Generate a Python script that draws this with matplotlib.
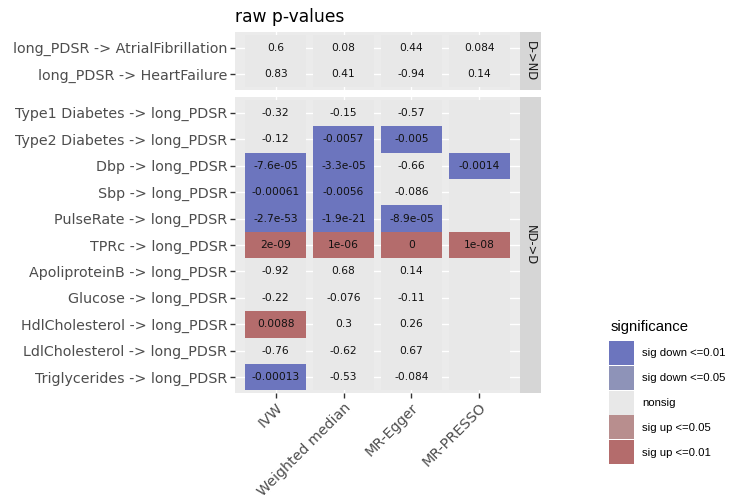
import matplotlib
matplotlib.use("Agg")
import matplotlib.pyplot as plt
from matplotlib.patches import Rectangle

# ---------------- data ----------------
methods = ["IVW", "Weighted median", "MR-Egger", "MR-PRESSO"]
rows_dnd = ["long_PDSR -> AtrialFibrillation", "long_PDSR -> HeartFailure"]
rows_ndd = ["Type1 Diabetes -> long_PDSR", "Type2 Diabetes -> long_PDSR",
            "Dbp -> long_PDSR", "Sbp -> long_PDSR", "PulseRate -> long_PDSR",
            "TPRc -> long_PDSR", "ApoliproteinB -> long_PDSR",
            "Glucose -> long_PDSR", "HdlCholesterol -> long_PDSR",
            "LdlCholesterol -> long_PDSR", "Triglycerides -> long_PDSR"]

ivw_dnd = ["0.6", "0.83"]
wm_dnd = ["0.08", "0.41"]
egger_dnd = ["0.44", "-0.94"]
presso_dnd = ["0.084", "0.14"]

ivw_ndd = ["-0.32", "-0.12", "-7.6e-05", "-0.00061", "-2.7e-53", "2e-09",
           "-0.92", "-0.22", "0.0088", "-0.76", "-0.00013"]
wm_ndd = ["-0.15", "-0.0057", "-3.3e-05", "-0.0056", "-1.9e-21", "1e-06",
          "0.68", "-0.076", "0.3", "-0.62", "-0.53"]
egger_ndd = ["-0.57", "-0.005", "-0.66", "-0.086", "-8.9e-05", "0",
             "0.14", "-0.11", "0.26", "0.67", "-0.084"]
presso_ndd = [None, None, "-0.0014", None, None, "1e-08",
              None, None, None, None, None]

sig_levels = ["sig down <=0.01", "sig down <=0.05", "nonsig",
              "sig up <=0.05", "sig up <=0.01"]
sig_colors = ["#6C75BE", "#8E93B8", "#E8E8E8", "#B88E8E", "#B46C6C"]

facet_labels = ["D->ND", "ND->D"]
title = "raw p-values"

# ---------------- helpers ----------------
W, H = 735, 499
fig = plt.figure(figsize=(W / 100, H / 100), dpi=100)
fig.patch.set_facecolor("white")


def px_axes(x0, y0, x1, y1):
    return fig.add_axes([x0 / W, 1 - y1 / H, (x1 - x0) / W, (y1 - y0) / H])


def category(s):
    if s is None:
        return "nonsig"
    v = float(s)
    p = abs(v)
    up = v >= 0
    if p <= 0.01:
        return "sig up <=0.01" if up else "sig down <=0.01"
    if p <= 0.05:
        return "sig up <=0.05" if up else "sig down <=0.05"
    return "nonsig"


color_of = dict(zip(sig_levels, sig_colors))
label_color = "#4D4D4D"
PX0, PX1 = 235, 520
SX1 = 541


def draw_panel(ax, rows, cols, show_x):
    n = len(rows)
    ax.set_facecolor("#EBEBEB")
    ax.set_xlim(0.4, len(methods) + 0.6)
    ax.set_ylim(n + 0.6, 0.4)
    ax.set_xticks(range(1, len(methods) + 1))
    ax.set_yticks(range(1, n + 1))
    ax.set_yticklabels(rows, fontsize=10.3, color=label_color)
    ax.grid(True, color="white", linewidth=1.0)
    ax.set_axisbelow(True)
    for s in ax.spines.values():
        s.set_visible(False)
    ax.tick_params(axis="both", length=3.5, width=1, color="#333333", pad=2)
    if show_x:
        ax.set_xticklabels(methods, rotation=45, ha="right",
                           rotation_mode="anchor", fontsize=10.3,
                           color=label_color)
    else:
        ax.tick_params(axis="x", length=0, labelbottom=False)
    for j, col in enumerate(cols):
        for i, s in enumerate(col):
            c = color_of[category(s)]
            ax.add_patch(Rectangle((j + 1 - 0.45, i + 1 - 0.5), 0.9, 1.0,
                                   facecolor=c, edgecolor="none", zorder=2))
            if s is not None:
                ax.text(j + 1, i + 1, s, ha="center", va="center",
                        fontsize=7.7, color="#111111", zorder=3)


def draw_strip(y0, y1, text):
    sax = px_axes(PX1, y0, SX1, y1)
    sax.set_facecolor("#D6D6D6")
    sax.set_xticks([])
    sax.set_yticks([])
    for s in sax.spines.values():
        s.set_visible(False)
    sax.text(0.5, 0.5, text, rotation=-90, ha="center", va="center",
             fontsize=8.3, color="#1A1A1A", transform=sax.transAxes)


ax1 = px_axes(PX0, 32, PX1, 90)
draw_panel(ax1, rows_dnd, [ivw_dnd, wm_dnd, egger_dnd, presso_dnd], False)
draw_strip(32, 90, facet_labels[0])

ax2 = px_axes(PX0, 97, PX1, 393)
draw_panel(ax2, rows_ndd, [ivw_ndd, wm_ndd, egger_ndd, presso_ndd], True)
draw_strip(97, 393, facet_labels[1])

fig.text(PX0 / W, 1 - 17 / H, title, ha="left", va="center",
         fontsize=12.3, color="black")

# ---------------- legend ----------------
lax = px_axes(600, 310, 735, 475)
lax.set_xlim(600, 735)
lax.set_ylim(475, 310)
lax.axis("off")
lax.text(611, 327, "significance", ha="left", va="center", fontsize=10.7,
         color="black", family="Liberation Sans")
key_h = 24.8
for k, (lab, col) in enumerate(zip(sig_levels, sig_colors)):
    y = 341 + k * key_h
    lax.add_patch(Rectangle((609, y), 25, key_h - 0.8, facecolor=col,
                            edgecolor="none"))
    lax.text(642, y + key_h / 2, lab, ha="left", va="center", fontsize=8.2,
             color="black", family="Liberation Sans")

fig.savefig("out.png", dpi=100)
